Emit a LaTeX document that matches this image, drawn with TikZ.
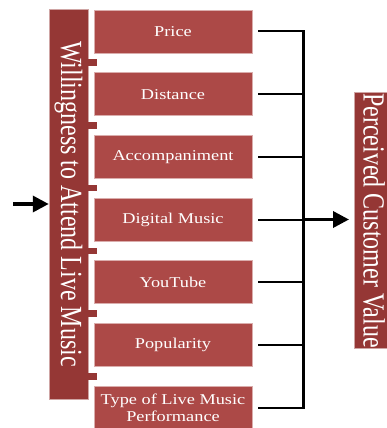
\documentclass[tikz,border=0pt]{standalone}
\usepackage{fontspec}
\setmainfont{Liberation Serif}
\usepackage{graphicx}
\usetikzlibrary{arrows.meta}

\definecolor{itemred}{RGB}{172,73,71}
\definecolor{bandred}{RGB}{149,55,53}

% labels are set slightly wide
\newcommand\widetext[1]{\scalebox{1.22}[1]{#1}}
\newcommand\downtext[1]{\scalebox{1.28}[1]{\rotatebox{-90}{#1}}}

\begin{document}
\begin{tikzpicture}[x=1pt,y=-1pt,
  itembox/.style={draw=itemred!45!white, line width=0.6pt, fill=itemred,
    text=white, minimum width=158pt, minimum height=43pt, inner sep=0pt,
    align=center, font=\fontsize{15}{17}\selectfont},
  band/.style={fill=bandred, draw=bandred!45!white, line width=0.5pt,
    inner sep=0pt},
  tab/.style={fill=bandred},
  bandtext/.style={text=white, inner sep=0pt, font=\fontsize{24}{28}\selectfont},
  link/.style={line width=2pt},
  bus/.style={line width=3pt, line cap=rect},
  flow/.style={line width=3.5pt, -{Triangle[length=16pt,width=16pt]}}
]
\useasboundingbox (0,0) rectangle (387,428);

% left band with its label
\node[band, minimum width=39pt, minimum height=390pt] (willing) at (68.5,204)
  {\textcolor{white}{\fontsize{24}{28}\selectfont\downtext{Willingness to Attend Live Music}}};

% tabs between the items
\foreach \ty in {62.8,125.5,188.1,250.8,313.5,376.2}
  \fill[tab] (87.5,\ty-3.3) rectangle (97,\ty+3.3);

% factor boxes
\node[itembox] (price)      at (173,31.5)   {\widetext{Price}};
\node[itembox] (distance)   at (173,94.17)  {\widetext{Distance}};
\node[itembox] (accomp)     at (173,156.83) {\widetext{Accompaniment}};
\node[itembox] (digital)    at (173,219.5)  {\widetext{Digital Music}};
\node[itembox] (youtube)    at (173,282.17) {\widetext{YouTube}};
\node[itembox] (popularity) at (173,344.83) {\widetext{Popularity}};
\node[itembox] (livetype)   at (173,407.5)
  {\widetext{Type of Live Music}\\\widetext{Performance}};

% right band with its label
\node[band, anchor=north west, minimum width=36pt, minimum height=256pt]
  (value) at (354,92) {};
\node[bandtext, anchor=north west] (valuetext) at (363,93)
  {\downtext{Perceived Customer Value}};

% collecting bracket
\coordinate (bx) at (303,0);
\foreach \n in {price,distance,accomp,digital,youtube,popularity,livetype}
  \draw[link] ([xshift=6pt]\n.east) -- (\n.east -| bx);
\draw[bus] (price.east -| bx) -- (livetype.east -| bx);

% arrows
\coordinate (src) at (13,204);
\draw[flow] (src) -- (willing.west);
\draw[flow, shorten >=5pt] (digital.east -| bx) -- (value.west |- digital.east);
\end{tikzpicture}
\end{document}
